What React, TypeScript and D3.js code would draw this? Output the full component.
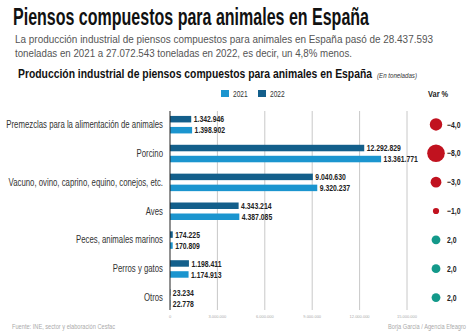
import React from 'react';
import * as d3 from 'd3';

// Producción por tipo de pienso (toneladas)
const categories = [
  'Premezclas para la alimentación de animales',
  'Porcino',
  'Vacuno, ovino, caprino, equino, conejos, etc.',
  'Aves',
  'Peces, animales marinos',
  'Perros y gatos',
  'Otros',
];
const values2022 = [1342946, 12292829, 9040630, 4343214, 174225, 1198411, 23234];
const values2021 = [1398902, 13361771, 9320237, 4387085, 170809, 1174913, 22778];
const variation = [-4.0, -8.0, -3.0, -1.0, 2.0, 2.0, 2.0];
const axisTicks = [0, 3000000, 6000000, 9000000, 12000000, 15000000];

const W = 474;
const H = 335;
const SANS = '"Liberation Sans", Arial, sans-serif';
const C2021 = '#1b95cf';
const C2022 = '#135f8b';
const NARROW = 0.78; // compresión horizontal para imitar una fuente estrecha

const es = d3.formatLocale({ decimal: ',', thousands: '.', grouping: [3], currency: ['', '€'] });
const fmtInt = es.format(',d');
const fmtVar = es.format('.1f');

const squeeze = (x: number, y: number, sx = NARROW) => `translate(${x},${y}) scale(${sx},1)`;

export default function App() {
  const x = d3.scaleLinear().domain([0, 15000000]).range([170, 407]);
  const y = d3.scaleBand().domain(categories).range([110, 312]);
  const r = d3.scaleSqrt().domain([0, 8]).range([0, 8.8]);
  const barH = 6.5;
  const circleX = 436;

  return (
    <svg width={W} height={H} style={{ position: 'absolute', left: 0, top: 0, background: '#fff' }} fontFamily={SANS}>
      <text x={13} y={25} fontWeight="bold" fontSize={24} fill="#111" textLength={356} lengthAdjust="spacingAndGlyphs">
        Piensos compuestos para animales en España
      </text>
      <text x={15} y={42.5} fontSize={11.5} fill="#555" textLength={418} lengthAdjust="spacingAndGlyphs">
        La producción industrial de piensos compuestos para animales en España pasó de 28.437.593
      </text>
      <text x={15} y={56.5} fontSize={11.5} fill="#555" textLength={337} lengthAdjust="spacingAndGlyphs">
        toneladas en 2021 a 27.072.543 toneladas en 2022, es decir, un 4,8% menos.
      </text>
      <text x={18} y={78} fontWeight="bold" fontSize={13.5} fill="#111" textLength={354} lengthAdjust="spacingAndGlyphs">
        Producción industrial de piensos compuestos para animales en España
      </text>
      <text x={377} y={78} fontStyle="italic" fontSize={7} fill="#333" textLength={40} lengthAdjust="spacingAndGlyphs">
        (En toneladas)
      </text>

      {/* leyenda */}
      <rect x={221} y={90} width={8} height={7} fill={C2021} />
      <text transform={squeeze(233, 97)} fontSize={8.5} fill="#333">2021</text>
      <rect x={258} y={90} width={8} height={7} fill={C2022} />
      <text transform={squeeze(270, 97)} fontSize={8.5} fill="#333">2022</text>
      <text transform={squeeze(428, 97)} fontWeight="bold" fontSize={9.5} fill="#222">Var %</text>

      {/* rejilla y eje */}
      {axisTicks.slice(1).map((t) => (
        <line key={t} x1={x(t)} x2={x(t)} y1={111} y2={310} stroke="#c8c8c8" strokeWidth={1} />
      ))}
      {axisTicks.map((t) => (
        <text key={'l' + t} x={x(t)} y={318} textAnchor="middle" fontSize={4} fill="#aaa">
          {fmtInt(t)}
        </text>
      ))}

      {categories.map((c, i) => {
        const cy = (y(c) as number) + y.bandwidth() / 2;
        const y22 = cy - 8.5;
        const y21 = cy + 2.5;
        const v = variation[i];
        return (
          <g key={c}>
            <text transform={squeeze(163, cy + 3.5)} textAnchor="end" fontSize={10} fill="#333">{c}</text>
            <rect x={x(0)} y={y22} width={x(values2022[i]) - x(0)} height={barH} fill={C2022} />
            <rect x={x(0)} y={y21} width={x(values2021[i]) - x(0)} height={barH} fill={C2021} />
            <text transform={squeeze(x(values2022[i]) + 2.5, y22 + barH / 2 + 3.2, 0.76)} fontWeight="bold" fontSize={9} fill="#222">
              {fmtInt(values2022[i])}
            </text>
            <text transform={squeeze(x(values2021[i]) + 2.5, y21 + barH / 2 + 3.2, 0.76)} fontWeight="bold" fontSize={9} fill="#222">
              {fmtInt(values2021[i])}
            </text>
            <circle cx={circleX} cy={cy} r={r(Math.abs(v))} fill={v < 0 ? '#c1121f' : '#13998a'} />
            <text transform={squeeze(447, cy + 3.2, 0.76)} fontWeight="bold" fontSize={9} fill="#222">{fmtVar(v)}</text>
          </g>
        );
      })}
      <line x1={x(0)} x2={x(0)} y1={111} y2={310} stroke="#222" strokeWidth={1} />

      <text x={12} y={329} fontSize={7} fill="#aaa" textLength={103} lengthAdjust="spacingAndGlyphs">
        Fuente: INE, sector y elaboración Cesfac
      </text>
      <text x={388} y={329} fontSize={7} fill="#aaa" textLength={78} lengthAdjust="spacingAndGlyphs">
        Borja García / Agencia Efeagro
      </text>
    </svg>
  );
}
